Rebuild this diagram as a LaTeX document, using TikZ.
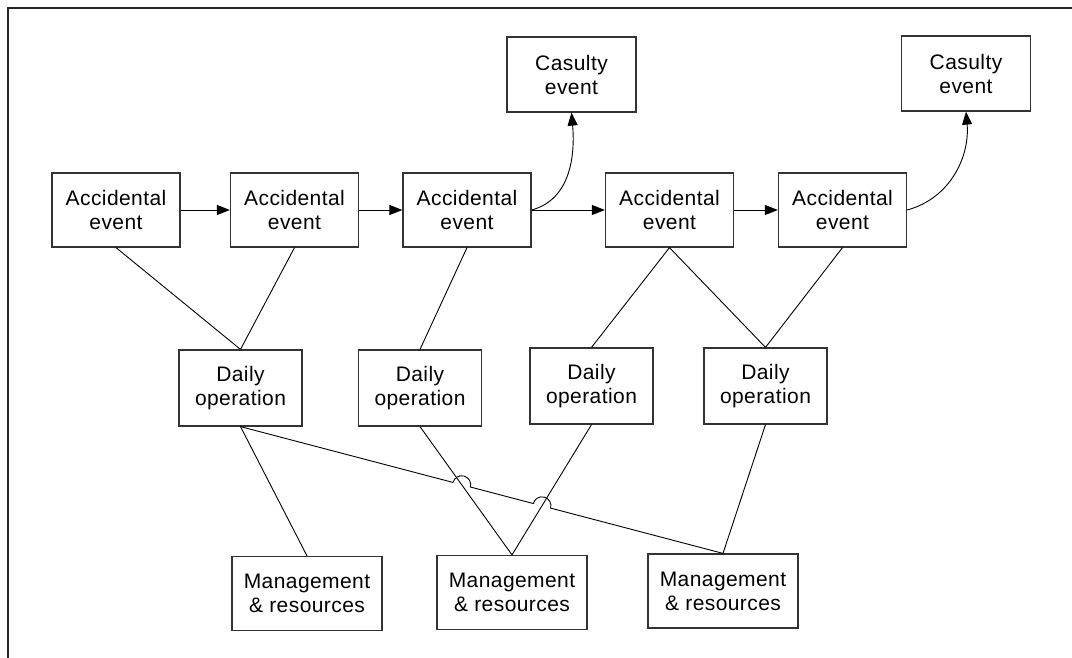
\documentclass[tikz,border=0pt]{standalone}
\usepackage{fontspec}
\setmainfont{Liberation Sans}[LetterSpace=2]
\usetikzlibrary{arrows.meta,calc,intersections}
\tikzset{
  box/.style={draw=black!80, line width=1.2pt, fill=white, inner sep=0pt, align=center,
    font=\fontsize{21}{24}\selectfont},
  abox/.style={box, minimum width=128pt, minimum height=74pt},
  cbox/.style={box, minimum width=129pt, minimum height=75pt},
  dbox/.style={box, minimum width=123pt, minimum height=76pt},
  mbox/.style={box, minimum width=150pt, minimum height=74pt},
  conn/.style={draw=black, line width=0.9pt},
  arr/.style={conn, -{Triangle[length=13pt,width=10pt]}},
  frameline/.style={draw=black!85, line width=2pt}
}
\begin{document}
\begin{tikzpicture}[x=1pt,y=1pt]
\useasboundingbox (0,0) rectangle (1072,-658);
% frame (top and left edges only)
\coordinate (fr) at (1072,-8);
\coordinate (ftl) at (8,-8);
\coordinate (fb) at (8,-658);
\draw[frameline] (fr) -- (ftl) -- (fb);

% accidental events
\node[abox] (A1) at (116,-210) {Accidental\\event};
\node[abox] (A2) at (294.5,-210) {Accidental\\event};
\node[abox] (A3) at (467,-210) {Accidental\\event};
\node[abox] (A4) at (669.5,-210) {Accidental\\event};
\node[abox] (A5) at (842.5,-210) {Accidental\\event};
% casualty events
\node[cbox] (C1) at (571.5,-74.5) {Casulty\\event};
\node[cbox] (C2) at (966,-73.5) {Casulty\\event};
% daily operation
\node[dbox] (D1) at (240.5,-388) {Daily\\operation};
\node[dbox] (D2) at (420,-388) {Daily\\operation};
\node[dbox] (D3) at (591.5,-386) {Daily\\operation};
\node[dbox] (D4) at (765.5,-386) {Daily\\operation};
% management
\node[mbox] (M1) at (307,-593.5) {Management\\\& resources};
\node[mbox] (M2) at (512,-592.5) {Management\\\& resources};
\node[mbox] (M3) at (723,-591) {Management\\\& resources};

% arrows between events
\draw[arr] (A1.east) -- (A2.west);
\draw[arr] (A2.east) -- (A3.west);
\draw[arr] (A3.east) -- (A4.west);
\draw[arr] (A4.east) -- (A5.west);
\draw[arr] (A3.east) to[out=15,in=-85] (C1.south);
\draw[arr] (A5.east) to[out=15,in=-85] (C2.south);

% event to daily operation
\draw[conn] (A1.south) -- (D1.north);
\draw[conn] (A2.south) -- (D1.north);
\draw[conn] (A3.south) -- (D2.north);
\draw[conn] (A4.south) -- (D3.north);
\draw[conn] (A4.south) -- (D4.north);
\draw[conn] (A5.south) -- (D4.north);

% daily operation to management
\draw[conn] (D1.south) -- (M1.north);
\draw[conn, name path=l2] (D2.south) -- (M2.north);
\draw[conn, name path=l3] (D3.south) -- (M2.north);
\draw[conn] (D4.south) -- (M3.north);

% long line with hops
\path[name path=long] (D1.south) -- (M3.north);
\path[name intersections={of=long and l2, by=i1}];
\path[name intersections={of=long and l3, by=i2}];
\def\hop{9}
\draw[conn] let \p1=($(M3.north)-(D1.south)$), \n1={atan2(\y1,\x1)} in
  (D1.south) -- ($(i1)!\hop pt!(D1.south)$)
  arc[start angle=\n1+180, end angle=\n1, radius=\hop pt]
  -- ($(i2)!\hop pt!(D1.south)$)
  arc[start angle=\n1+180, end angle=\n1, radius=\hop pt]
  -- (M3.north);
\end{tikzpicture}
\end{document}
